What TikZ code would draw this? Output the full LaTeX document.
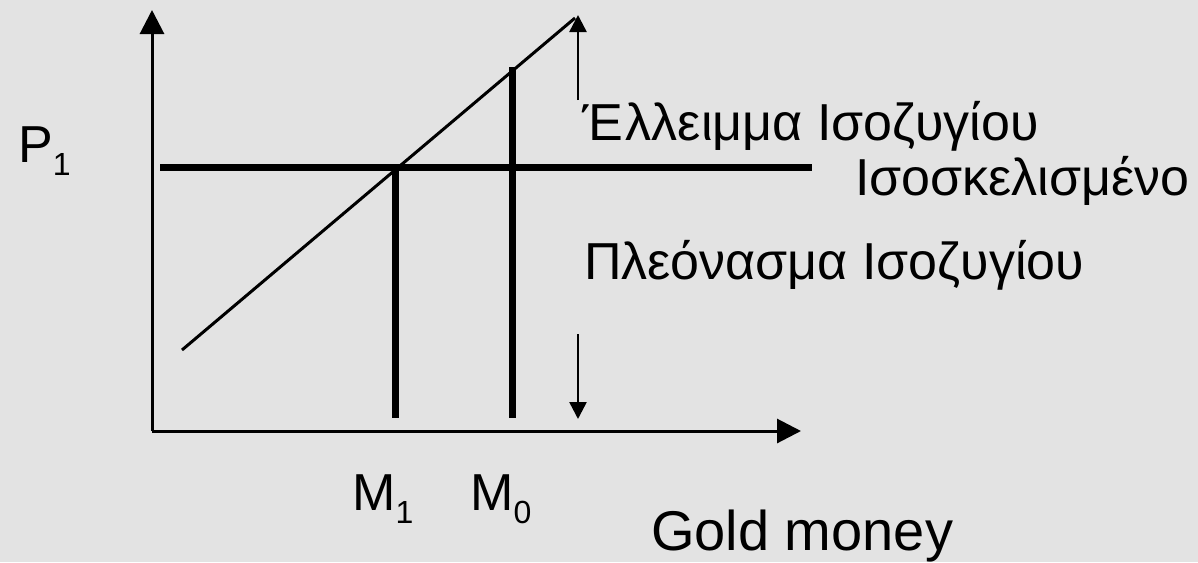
\documentclass[tikz,border=0pt]{standalone}
\usepackage{fontspec}
\setmainfont{Liberation Sans}
\usetikzlibrary{arrows.meta}

\definecolor{bggray}{HTML}{E3E3E3}
\newcommand{\lowsub}[1]{\raisebox{-13pt}{\fontsize{32}{32}\selectfont #1}}

\begin{document}
\begin{tikzpicture}[
  x=1pt, y=-1pt,
  axis/.style={line width=3pt, -{Triangle[length=24pt,width=24pt]}},
  gap arrow/.style={line width=2.5pt, -{Triangle[length=17pt,width=17pt]}},
  bold line/.style={line width=7pt},
  curve/.style={line width=3pt},
  lbl/.style={anchor=base west, inner sep=0pt, font=\fontsize{52}{60}\selectfont}
]

% background and bounding box
\fill[bggray] (0,0) rectangle (1198,562);
\useasboundingbox (0,0) rectangle (1198,562);

% ===== axes =====
\coordinate (origin) at (152,431);
\coordinate (ytop) at (152,10);
\coordinate (xend) at (801,431);
\draw[axis] (origin) -- (ytop);
\draw[axis] (origin) -- (xend);

% ===== price level and supply line =====
\coordinate (pleft) at (160,167);
\coordinate (pright) at (812,167);
\draw[bold line] (pleft) -- (pright);

\coordinate (slow) at (182,350);
\coordinate (shigh) at (575,18);
\draw[curve] (slow) -- (shigh);

% ===== money stock lines =====
\coordinate (mone top) at (395,167);
\coordinate (mone bot) at (395,418);
\coordinate (mzero top) at (512,67);
\coordinate (mzero bot) at (512,418);
\draw[bold line] (mone top) -- (mone bot);
\draw[bold line] (mzero top) -- (mzero bot);

% ===== direction arrows =====
\coordinate (up from) at (578,100);
\coordinate (up to) at (578,15);
\coordinate (down from) at (578,334);
\coordinate (down to) at (578,419);
\draw[gap arrow] (up from) -- (up to);
\draw[gap arrow] (down from) -- (down to);

% ===== labels =====
\node[lbl] (pone) at (18,162) {P\lowsub{1}};
\node[lbl] (deficit) at (582,140) {Έ\hspace{3pt}λλειμμα Ισοζυγίου};
\node[lbl] (balanced) at (855,195) {Ισοσκελισμένο};
\node[lbl] (surplus) at (584,279) {Πλεόνασμα Ισοζυγίου};
\node[lbl] (mone) at (352,510) {M\lowsub{1}};
\node[lbl] (mzero) at (470,510) {M\lowsub{0}};
\node[lbl, font=\fontsize{56}{64}\selectfont] (gold) at (651,550) {Gold money};

\end{tikzpicture}
\end{document}
